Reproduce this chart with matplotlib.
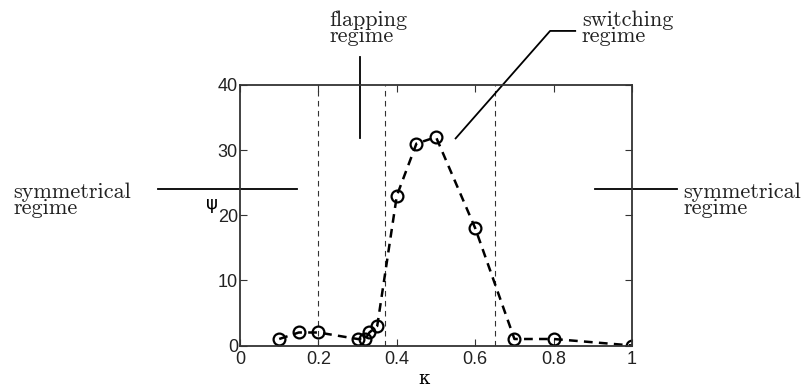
import matplotlib.pyplot as plt

# data
kappa = [0.1, 0.15, 0.2, 0.3, 0.32, 0.33, 0.35, 0.4, 0.45, 0.5, 0.6, 0.7, 0.8, 1.0]
psi = [1, 2, 2, 1, 1, 2, 3, 23, 31, 32, 18, 1, 1, 0]
boundaries = [0.2, 0.37, 0.65]
xticks = [0, 0.2, 0.4, 0.6, 0.8, 1]
xticklabels = ['0', '0.2', '0.4', '0.6', '0.8', '1']
yticks = [0, 10, 20, 30, 40]

# annotation lines (data coords, drawn outside the axes)
sym_left_x = [-0.209, 0.145]
sym_right_x = [0.906, 1.115]
sym_y = [24, 24]
flap_x = [0.306, 0.306]
flap_y = [44.3, 31.8]
switch_x = [0.55, 0.791, 0.855]
switch_y = [31.8, 48.3, 48.3]

serif = 'cmr10'
axcol = '#333333'

fig = plt.figure(figsize=(8.03, 3.87), dpi=100)
ax = fig.add_axes([0.2989, 0.1072, 0.4882, 0.6732])

for b in boundaries:
    ax.axvline(b, color=axcol, lw=0.8, ls=(0, (5, 4)))

ax.plot(kappa, psi, color='black', lw=1.8, ls=(0, (3.5, 2.5)),
        marker='o', ms=8.5, mfc='none', mec='black', mew=1.6)

ax.set_xlim(0, 1)
ax.set_ylim(0, 40)
ax.set_xticks(xticks)
ax.set_xticklabels(xticklabels)
ax.set_yticks(yticks)
ax.tick_params(direction='in', top=True, right=True, length=5, width=0.8,
               labelsize=13, pad=1.5, color=axcol, labelcolor='#222222')
ax.tick_params(axis='x', pad=4)
for lab in ax.get_xticklabels() + ax.get_yticklabels():
    lab.set_fontfamily('Liberation Sans')
for sp in ax.spines.values():
    sp.set_linewidth(1.3)
    sp.set_color(axcol)

ax.set_xlabel('κ', fontsize=13, fontfamily='DejaVu Serif')
ax.xaxis.set_label_coords(0.468, -0.095)
ax.set_ylabel('ψ', fontsize=13, rotation=0, fontfamily='DejaVu Sans')
ax.yaxis.set_label_coords(-0.072, 0.51)

kw = dict(color='black', lw=1.3, clip_on=False)
ax.plot(sym_left_x, sym_y, **kw)
ax.plot(sym_right_x, sym_y, **kw)
ax.plot(flap_x, flap_y, **kw)
ax.plot(switch_x, switch_y, **kw)

tkw = dict(fontsize=16, fontfamily=serif, linespacing=0.78, color='#222222')
ax.text(-0.579, 22.3, 'symmetrical\nregime', ha='left', va='center', **tkw)
ax.text(1.130, 22.3, 'symmetrical\nregime', ha='left', va='center', **tkw)
ax.text(0.227, 51.5, 'flapping\nregime', ha='left', va='top', **tkw)
ax.text(0.872, 51.5, 'switching\nregime', ha='left', va='top', **tkw)

fig.savefig('out.png', dpi=100)
